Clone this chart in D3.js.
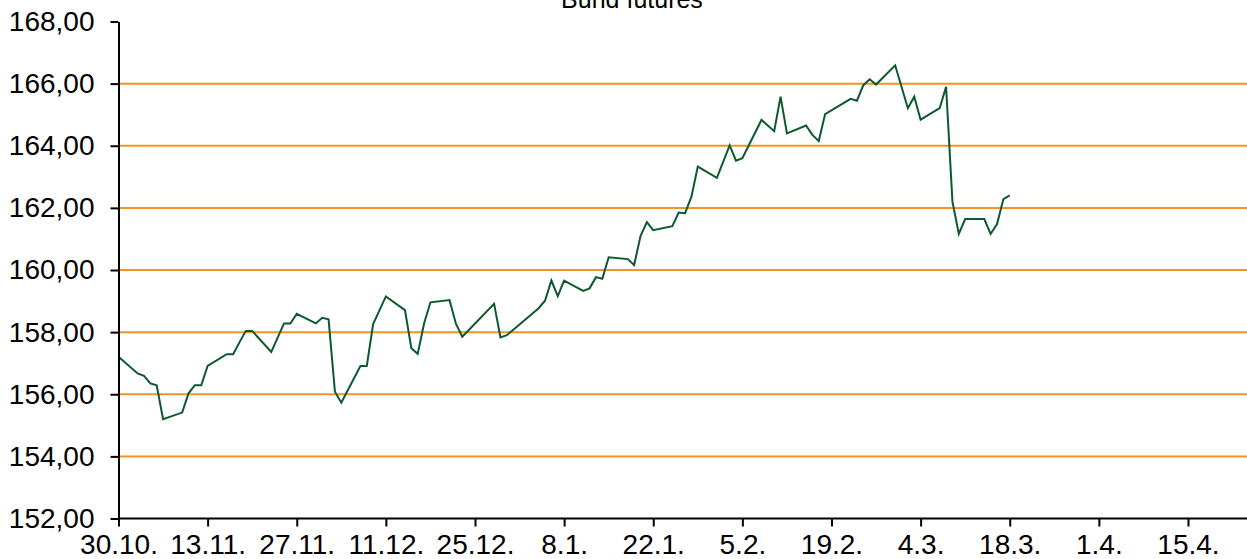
<!DOCTYPE html>
<html>
	<head>
		<title>Bund futures</title>

		<!--libs-->
		<script src="https://d3js.org/d3.v7.min.js"></script>

		<!--css-->
		<style>
			body {
				margin: 0;
				background: #fff;
			}

			.chart text {
				font-family: Arial, "Liberation Sans", sans-serif;
				fill: #000;
			}
		</style>
		<!--css-->
	</head>
	<body>

		<div class="chart" data-width="1247" data-height="559"></div>

		<!--js-->
		<script>
			//Bund futures - daily close

			var dates = [
				"2023-10-30", "2023-11-02", "2023-11-03", "2023-11-04", "2023-11-05", "2023-11-06",
				"2023-11-09", "2023-11-10", "2023-11-11", "2023-11-12", "2023-11-13",
				"2023-11-16", "2023-11-17", "2023-11-18", "2023-11-19", "2023-11-20",
				"2023-11-23", "2023-11-25", "2023-11-26", "2023-11-27",
				"2023-11-30", "2023-12-01", "2023-12-02", "2023-12-03", "2023-12-04",
				"2023-12-07", "2023-12-08", "2023-12-09", "2023-12-11",
				"2023-12-14", "2023-12-15", "2023-12-16", "2023-12-17", "2023-12-18",
				"2023-12-21", "2023-12-22", "2023-12-23",
				"2023-12-28", "2023-12-29", "2023-12-30",
				"2024-01-04", "2024-01-05", "2024-01-06", "2024-01-07", "2024-01-08",
				"2024-01-11", "2024-01-12", "2024-01-13", "2024-01-14", "2024-01-15",
				"2024-01-18", "2024-01-19", "2024-01-20", "2024-01-21", "2024-01-22",
				"2024-01-25", "2024-01-26", "2024-01-27", "2024-01-28", "2024-01-29",
				"2024-02-01", "2024-02-03", "2024-02-04", "2024-02-05",
				"2024-02-08", "2024-02-10", "2024-02-11", "2024-02-12",
				"2024-02-15", "2024-02-16", "2024-02-17", "2024-02-18",
				"2024-02-22", "2024-02-23", "2024-02-24", "2024-02-25", "2024-02-26",
				"2024-02-29", "2024-03-02", "2024-03-03", "2024-03-04",
				"2024-03-07", "2024-03-08", "2024-03-09", "2024-03-10", "2024-03-11",
				"2024-03-14", "2024-03-15", "2024-03-16", "2024-03-17", "2024-03-18"
			];

			var values = [
				157.21, 156.67, 156.59, 156.35, 156.29, 155.20,
				155.41, 156.03, 156.29, 156.29, 156.91,
				157.29, 157.29, 157.67, 158.04, 158.04,
				157.36, 158.28, 158.28, 158.59,
				158.28, 158.46, 158.41, 156.08, 155.73,
				156.91, 156.91, 158.26, 159.15,
				158.71, 157.48, 157.30, 158.28, 158.96,
				159.03, 158.27, 157.85,
				158.91, 157.83, 157.90,
				158.77, 159.01, 159.66, 159.16, 159.66,
				159.33, 159.41, 159.77, 159.72, 160.41,
				160.35, 160.16, 161.09, 161.54, 161.28,
				161.41, 161.85, 161.83, 162.36, 163.33,
				162.97, 164.01, 163.52, 163.60,
				164.83, 164.47, 165.58, 164.40,
				164.65, 164.35, 164.15, 165.02,
				165.51, 165.45, 165.95, 166.14, 165.97,
				166.59, 165.21, 165.58, 164.84,
				165.21, 165.90, 162.20, 161.16, 161.64,
				161.64, 161.16, 161.48, 162.28, 162.40
			];

			var xTickDates = [
				"2023-10-30", "2023-11-13", "2023-11-27", "2023-12-11", "2023-12-25",
				"2024-01-08", "2024-01-22", "2024-02-05", "2024-02-19", "2024-03-04",
				"2024-03-18", "2024-04-01", "2024-04-15"
			];

			var yTicks = [152, 154, 156, 158, 160, 162, 164, 166, 168];
			var gridTicks = [154, 156, 158, 160, 162, 164, 166];

			var title = "Bund futures";

			var $chart = d3.select(".chart");
			var width = +$chart.attr("data-width"),
				height = +$chart.attr("data-height");

			var parse = d3.utcParse("%Y-%m-%d");
			var fmtDate = d3.utcFormat("%-d.%-m.");
			var de = d3.formatLocale({decimal: ",", thousands: ".", grouping: [3], currency: ["", " €"]});
			var fmtVal = de.format(".2f");

			var data = dates.map(function(d, i) {
				return {date: parse(d), value: values[i]};
			});

			var plotLeft = 118.5,
				plotTop = 21.5,
				plotBottom = 518.5;

			var x = d3.scaleUtc()
				.domain([parse("2023-10-30"), parse("2024-04-24")])
				.range([plotLeft, plotLeft + 177 * 6.366]);

			var y = d3.scaleLinear()
				.domain([152, 168])
				.range([plotBottom, plotTop]);

			var svg = $chart.append("svg")
				.attr("width", width)
				.attr("height", height);

			//grid
			svg.append("g")
				.attr("class", "grid")
				.selectAll("line")
				.data(gridTicks)
				.enter().append("line")
				.attr("x1", plotLeft + 1)
				.attr("x2", width)
				.attr("y1", function(d) { return y(d); })
				.attr("y2", function(d) { return y(d); })
				.style("stroke", "#f39322")
				.style("stroke-width", 2);

			//line
			var line = d3.line()
				.x(function(d) { return x(d.date); })
				.y(function(d) { return y(d.value); });

			svg.append("path")
				.datum(data)
				.attr("d", line)
				.style("fill", "none")
				.style("stroke", "#0b5a2c")
				.style("stroke-width", 2)
				.style("stroke-linejoin", "miter");

			//y axis
			var yAxis = svg.append("g")
				.attr("transform", "translate(" + plotLeft + ",0)")
				.call(d3.axisLeft(y).tickValues(yTicks).tickFormat(fmtVal).tickSize(8).tickPadding(16).tickSizeOuter(0));

			//x axis
			var xAxis = svg.append("g")
				.attr("transform", "translate(0," + plotBottom + ")")
				.call(d3.axisBottom(x).tickValues(xTickDates.map(parse)).tickFormat(fmtDate).tickSize(8).tickPadding(8).tickSizeOuter(0));

			xAxis.select(".domain").attr("d", "M" + plotLeft + ",0H" + width);

			svg.selectAll(".domain, .tick line")
				.style("stroke", "#000")
				.style("stroke-width", 2);

			svg.selectAll(".tick text")
				.style("font-size", "28px");

			//title
			svg.append("text")
				.attr("x", 632)
				.attr("y", 8)
				.attr("text-anchor", "middle")
				.style("font-size", "25px")
				.text(title);

			//Bund futures - daily close
		</script>
		<!--js-->

	</body>
</html>
